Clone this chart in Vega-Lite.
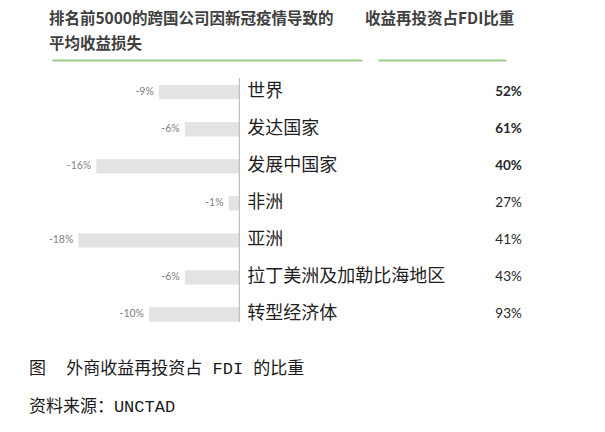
{
  "$schema": "https://vega.github.io/schema/vega-lite/v6.json",
  "padding": {"left": 28, "top": 11, "right": 5, "bottom": 5},
  "background": "white",
  "bounds": "flush",
  "spacing": 16,
  "config": {
    "view": {"stroke": null},
    "locale": {"number": {"decimal": ".", "thousands": ",", "grouping": [3], "currency": ["$", ""], "minus": "-", "percent": "%"}}
  },
  "title": {
    "text": ["图 \u00a0外商收益再投资占 FDI 的比重", "资料来源：UNCTAD"],
    "orient": "bottom",
    "anchor": "start",
    "dx": -20,
    "offset": 38,
    "font": "Liberation Mono, Noto Sans CJK SC",
    "fontSize": 17,
    "fontWeight": "normal",
    "color": "#1a1a1a",
    "lineHeight": 38
  },
  "datasets": {
    "regions": [
      {"region": "世界", "loss": -0.09, "fdi": 0.52},
      {"region": "发达国家", "loss": -0.061, "fdi": 0.61},
      {"region": "发展中国家", "loss": -0.16, "fdi": 0.40},
      {"region": "非洲", "loss": -0.012, "fdi": 0.27},
      {"region": "亚洲", "loss": -0.18, "fdi": 0.41},
      {"region": "拉丁美洲及加勒比海地区", "loss": -0.061, "fdi": 0.43},
      {"region": "转型经济体", "loss": -0.101, "fdi": 0.93}
    ]
  },
  "resolve": {"scale": {"x": "independent", "y": "independent"}},
  "hconcat": [
    {
      "width": 310,
      "height": 244,
      "title": {
        "text": ["排名前5000的跨国公司因新冠疫情导致的", "平均收益损失"],
        "anchor": "start",
        "font": "Noto Sans CJK SC",
        "fontSize": 15.5,
        "fontWeight": "bold",
        "color": "#404040",
        "lineHeight": 25,
        "offset": 8
      },
      "data": {"name": "regions"},
      "layer": [
        {
          "mark": {"type": "bar", "color": "#e3e3e3"},
          "encoding": {
            "y": {"field": "region", "type": "nominal", "sort": null, "scale": {"type": "band", "paddingInner": 0.614, "paddingOuter": 0.1, "align": 0.95}, "axis": null},
            "x": {
              "field": "loss", "type": "quantitative",
              "scale": {"domain": [-0.2095, 0.1372], "nice": false},
              "axis": {"orient": "top", "offset": 18, "domainColor": "#9dcc86", "domainWidth": 2, "labels": false, "ticks": false, "grid": false, "title": null}
            },
            "x2": {"datum": 0}
          }
        },
        {
          "data": {"values": [{}]},
          "mark": {"type": "rule", "color": "#b3b3b3", "strokeWidth": 1},
          "encoding": {"x": {"datum": 0, "type": "quantitative"}}
        },
        {
          "mark": {"type": "text", "align": "right", "baseline": "middle", "dx": -5, "font": "Lato", "fontSize": 10.5, "color": "#7f7f7f"},
          "encoding": {
            "y": {"field": "region", "type": "nominal", "sort": null},
            "x": {"field": "loss", "type": "quantitative"},
            "text": {"field": "loss", "type": "quantitative", "format": ".0%"}
          }
        },
        {
          "mark": {"type": "text", "align": "left", "baseline": "middle", "dx": 8, "font": "Noto Sans CJK SC", "fontSize": 18, "color": "#1f1f1f"},
          "encoding": {
            "y": {"field": "region", "type": "nominal", "sort": null},
            "x": {"datum": 0, "type": "quantitative"},
            "text": {"field": "region", "type": "nominal"}
          }
        }
      ]
    },
    {
      "width": 128,
      "height": 244,
      "title": {
        "text": ["收益再投资占FDI比重", " "],
        "anchor": "start",
        "dx": -13,
        "font": "Noto Sans CJK SC",
        "fontSize": 15.5,
        "fontWeight": "bold",
        "color": "#404040",
        "lineHeight": 25,
        "offset": 8
      },
      "data": {"name": "regions"},
      "encoding": {
        "y": {"field": "region", "type": "nominal", "sort": null, "scale": {"type": "band", "paddingInner": 0.614, "paddingOuter": 0.1, "align": 0.95}, "axis": null},
        "x": {
          "datum": 1.02, "type": "quantitative",
          "scale": {"domain": [0, 1], "nice": false, "zero": false},
          "axis": {"orient": "top", "offset": 18, "domainColor": "#9dcc86", "domainWidth": 2, "labels": false, "ticks": false, "grid": false, "title": null}
        },
        "text": {"field": "fdi", "type": "quantitative", "format": ".0%"}
      },
      "layer": [
        {
          "transform": [{"filter": "indexof(['世界', '发达国家', '发展中国家'], datum.region) >= 0"}],
          "mark": {"type": "text", "align": "center", "baseline": "middle", "font": "Lato", "fontSize": 13.5, "fontWeight": "bold", "color": "#262626"}
        },
        {
          "transform": [{"filter": "indexof(['世界', '发达国家', '发展中国家'], datum.region) < 0"}],
          "mark": {"type": "text", "align": "center", "baseline": "middle", "font": "Lato", "fontSize": 13.5, "fontWeight": "normal", "color": "#262626"}
        }
      ]
    }
  ]
}
